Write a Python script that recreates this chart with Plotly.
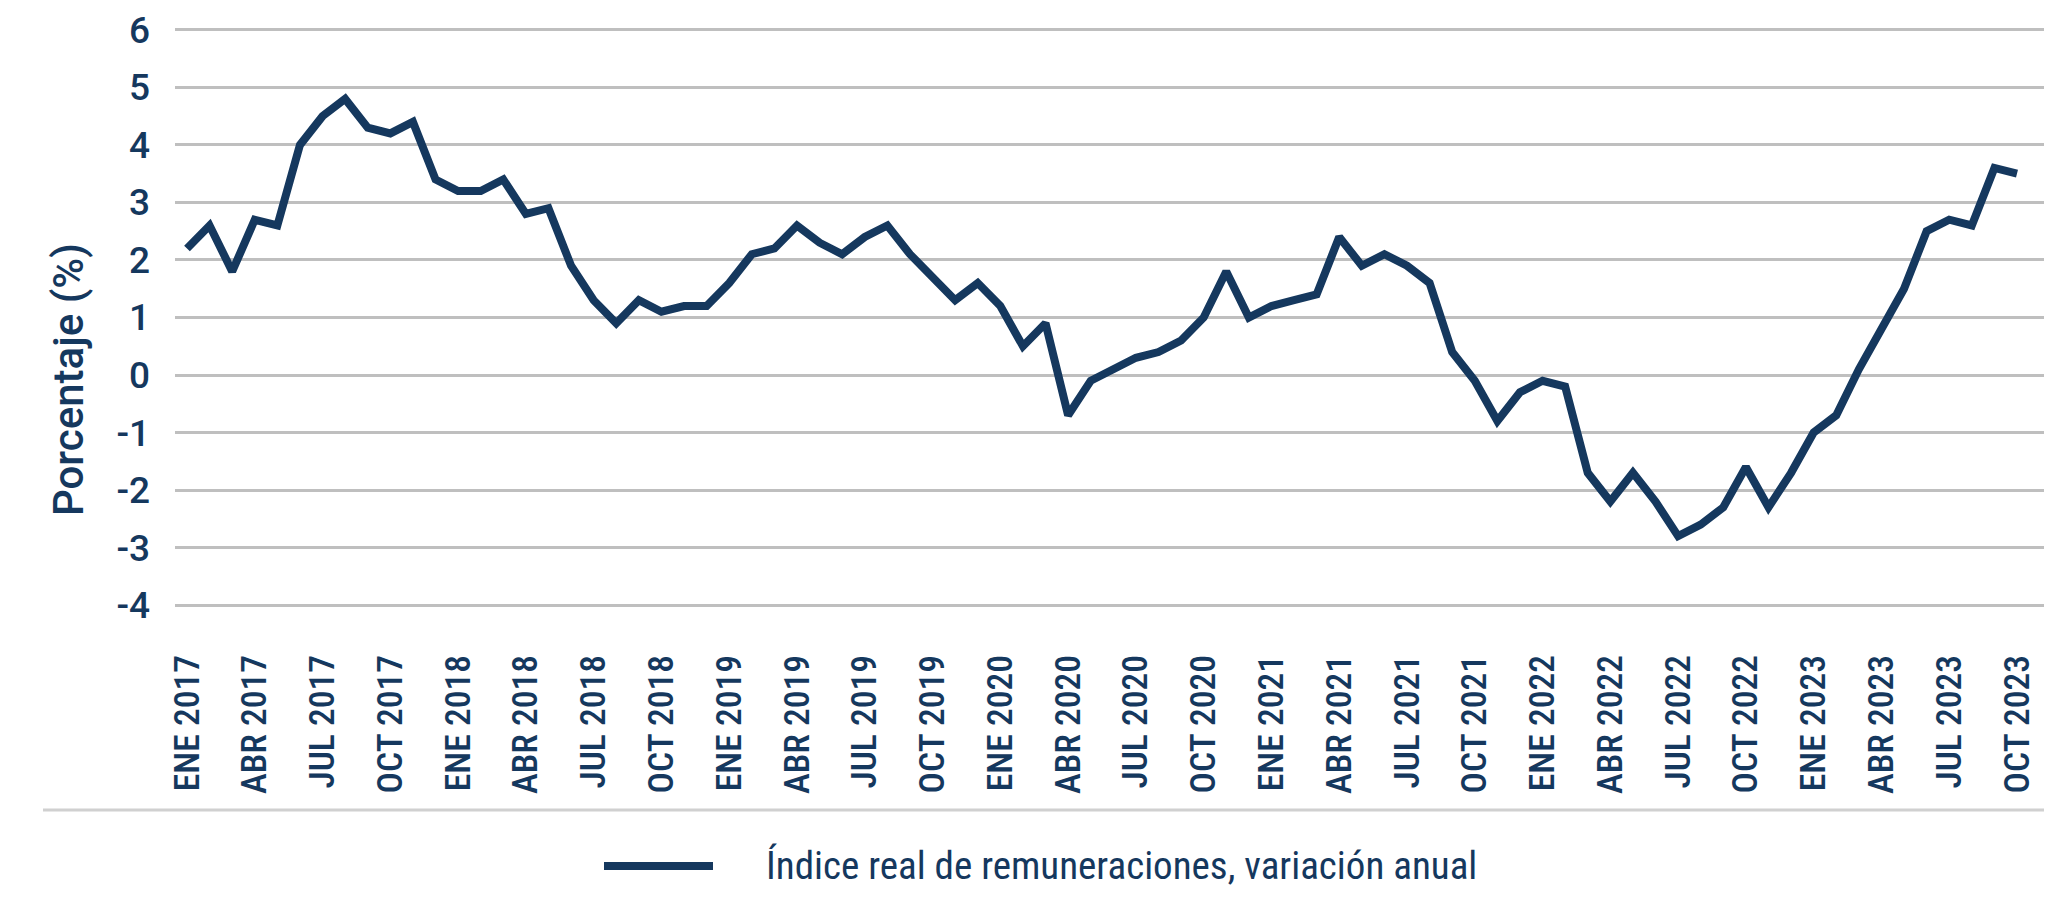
import plotly.graph_objects as go

# ---------------- data ----------------
month_names = ["ENE", "FEB", "MAR", "ABR", "MAY", "JUN", "JUL", "AGO", "SEP", "OCT", "NOV", "DIC"]
years = [2017, 2018, 2019, 2020, 2021, 2022, 2023]

values_2017 = [2.2, 2.6, 1.8, 2.7, 2.6, 4.0, 4.5, 4.8, 4.3, 4.2, 4.4, 3.4]
values_2018 = [3.2, 3.2, 3.4, 2.8, 2.9, 1.9, 1.3, 0.9, 1.3, 1.1, 1.2, 1.2]
values_2019 = [1.6, 2.1, 2.2, 2.6, 2.3, 2.1, 2.4, 2.6, 2.1, 1.7, 1.3, 1.6]
values_2020 = [1.2, 0.5, 0.9, -0.7, -0.1, 0.1, 0.3, 0.4, 0.6, 1.0, 1.8, 1.0]
values_2021 = [1.2, 1.3, 1.4, 2.4, 1.9, 2.1, 1.9, 1.6, 0.4, -0.1, -0.8, -0.3]
values_2022 = [-0.1, -0.2, -1.7, -2.2, -1.7, -2.2, -2.8, -2.6, -2.3, -1.6, -2.3, -1.7]
values_2023 = [-1.0, -0.7, 0.1, 0.8, 1.5, 2.5, 2.7, 2.6, 3.6, 3.5]

series_name = "Índice real de remuneraciones, variación anual"
y_title = "Porcentaje (%)"
y_tick_values = [6, 5, 4, 3, 2, 1, 0, -1, -2, -3, -4]
y_tick_labels = ["6", "5", "4", "3", "2", "1", "0", "-1", "-2", "-3", "-4"]

values = (values_2017 + values_2018 + values_2019 + values_2020
          + values_2021 + values_2022 + values_2023)
categories = [f"{m} {y}" for y in years for m in month_names][:len(values)]
x_tick_labels = [c for c in categories if c.split()[0] in ("ENE", "ABR", "JUL", "OCT")]

# ---------------- style ----------------
NAVY = "#15385e"
GRID = "#bfbfbf"
COND = "Roboto Condensed, DejaVu Sans Condensed, sans-serif"
W, H = 2054, 905
L, R, T, B = 175, 2044, 27, 608  # plot area in px

def px_x(p):
    return (p - L) / (R - L)

def px_y(p):
    return (B - p) / (B - T)

fig = go.Figure()
fig.add_trace(go.Scatter(
    x=categories, y=values, mode="lines", name=series_name,
    line=dict(color=NAVY, width=8), showlegend=False,
))

fig.update_layout(
    width=W, height=H,
    margin=dict(l=L, r=W - R, t=T, b=H - B, autoexpand=False),
    paper_bgcolor="white", plot_bgcolor="white",
    showlegend=False,
    font=dict(family="Roboto, Liberation Sans, sans-serif", color=NAVY),
)

fig.update_xaxes(
    type="category", categoryorder="array", categoryarray=categories,
    range=[-0.531, 82.195],
    tickmode="array", tickvals=x_tick_labels, ticktext=x_tick_labels,
    tickangle=-90, ticks="", showgrid=False, zeroline=False, showline=False,
    tickfont=dict(family=COND, size=35.5, weight=500, color=NAVY),
    ticklabelstandoff=39,
)
fig.update_yaxes(
    range=[-4.05, 6.05],
    tickmode="array", tickvals=y_tick_values, ticktext=y_tick_labels,
    showgrid=True, gridcolor=GRID, gridwidth=2.5, zeroline=False, showline=False,
    ticks="",
    tickfont=dict(family="Roboto, Liberation Sans, sans-serif", size=37, weight=500, color=NAVY),
    ticklabelstandoff=24,
)

# y-axis title
fig.add_annotation(
    text=y_title, textangle=-90, showarrow=False,
    xref="paper", yref="paper", x=px_x(68), y=px_y(380),
    xanchor="center", yanchor="middle",
    font=dict(family="Roboto, Liberation Sans, sans-serif", size=42, weight=500, color=NAVY),
)

# separator line under axis labels
fig.add_shape(type="line", xref="paper", yref="paper",
              x0=px_x(43), x1=px_x(2044), y0=px_y(810), y1=px_y(810),
              line=dict(color="#d0d0d0", width=3))

# legend
fig.add_shape(type="line", xref="paper", yref="paper",
              x0=px_x(604), x1=px_x(713), y0=px_y(866), y1=px_y(866),
              line=dict(color=NAVY, width=8))
fig.add_annotation(
    text=series_name, showarrow=False,
    xref="paper", yref="paper", x=px_x(764), y=px_y(866),
    xanchor="left", yanchor="middle",
    font=dict(family=COND, size=39, weight=400, color=NAVY),
)

fig.write_html("out.html", config={"displayModeBar": False},
               post_script="document.body.style.margin='0';document.body.style.overflow='hidden';")
